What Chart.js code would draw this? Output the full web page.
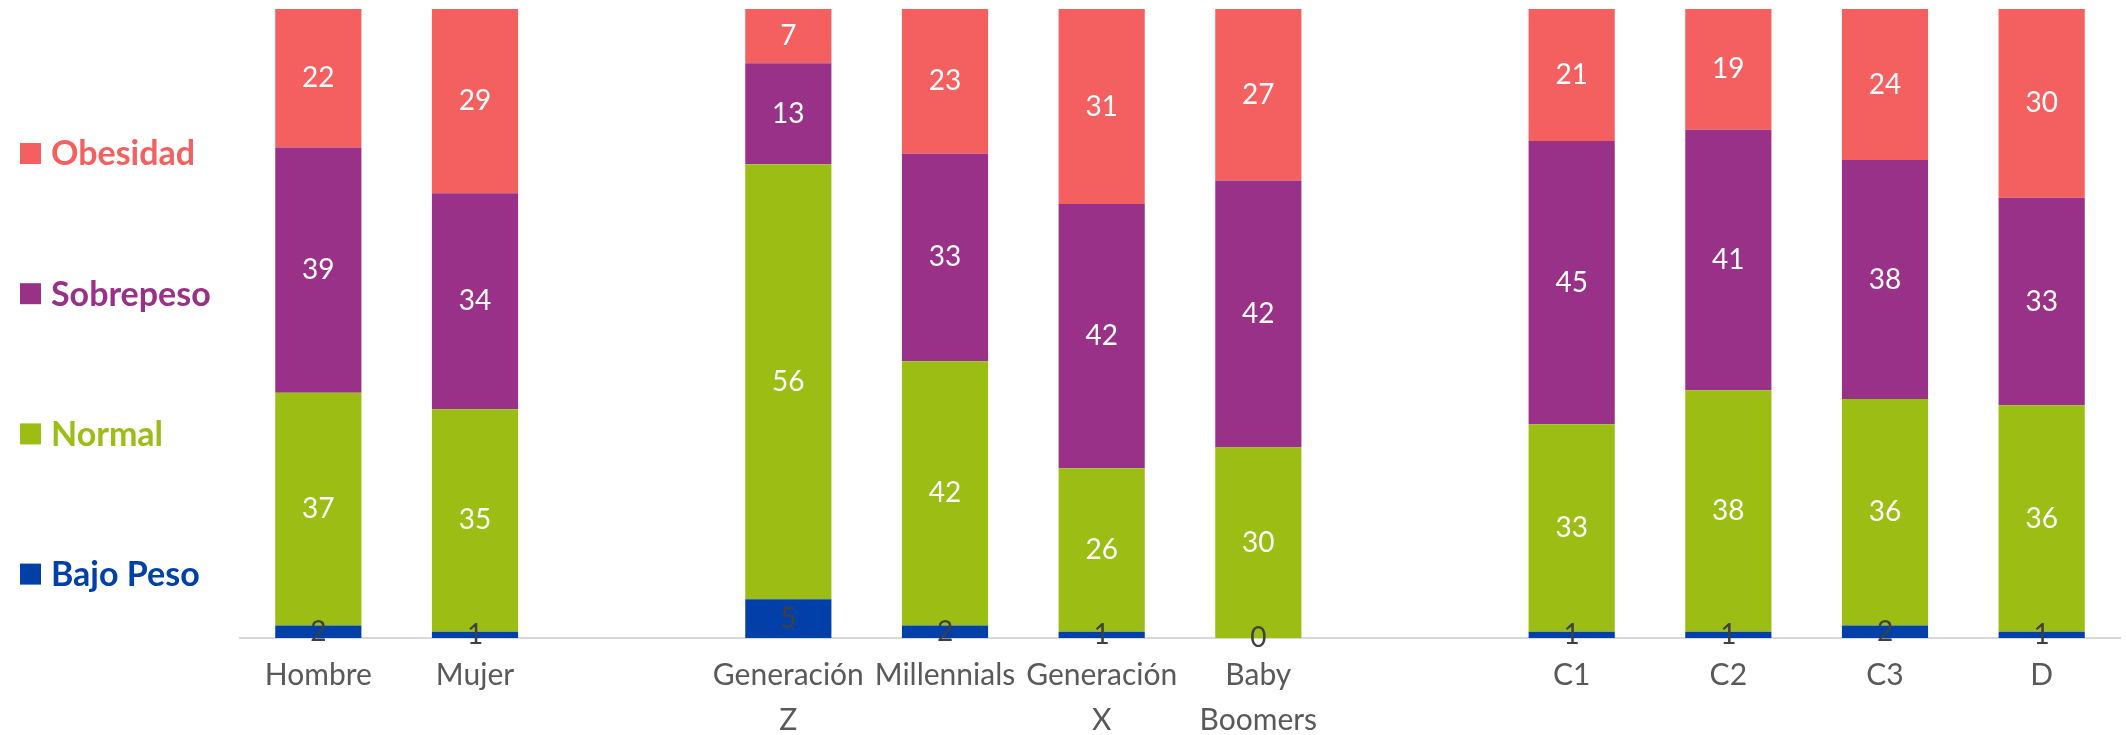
<!DOCTYPE html>
<html>
<head>
<meta charset="utf-8">
<script src="https://cdn.jsdelivr.net/npm/chart.js@4.4.1/dist/chart.umd.min.js"></script>
<style>
  body { margin: 0; background: #fff; }
  canvas { display: block; }
</style>
</head>
<body>
<canvas id="mychart" width="2126" height="735"></canvas>
<script>
// categories (blank slots are the gaps between groups)
var categories = ['Hombre', 'Mujer', '', ['Generación', 'Z'], 'Millennials', ['Generación', 'X'], ['Baby', 'Boomers'], '', 'C1', 'C2', 'C3', 'D']

// raw values shown in the labels
var bajoPeso  = [2, 1, null, 5, 2, 1, 0, null, 1, 1, 2, 1]
var normal    = [37, 35, null, 56, 42, 26, 30, null, 33, 38, 36, 36]
var sobrepeso = [39, 34, null, 13, 33, 42, 42, null, 45, 41, 38, 33]
var obesidad  = [22, 29, null, 7, 23, 31, 27, null, 21, 19, 24, 30]

var seriesNames = ['Bajo Peso', 'Normal', 'Sobrepeso', 'Obesidad']
var seriesColors = ['#0040A8', '#9BBD14', '#993189', '#F4605F']
var labelColors = ['#404040', '#ffffff', '#ffffff', '#ffffff']

var raw = [bajoPeso, normal, sobrepeso, obesidad]

// 100% stacked: turn each column into shares
var totals = categories.map(function(c, i){
    var s = 0
    raw.forEach(function(arr){ if (arr[i] != null) s += arr[i] })
    return s
})
var datasets = raw.map(function(arr, k){
    return {
        label: seriesNames[k],
        data: arr.map(function(v, i){ return v == null ? null : v / totals[i] * 100 }),
        rawValues: arr,
        backgroundColor: seriesColors[k],
        labelColor: labelColors[k],
        borderWidth: 0,
        barPercentage: 0.55,
        categoryPercentage: 1
    }
})

Chart.defaults.font.family = 'Lato'

var valueLabels = {
    id: 'valueLabels',
    afterDatasetsDraw: function(chart){
        var ctx = chart.ctx
        ctx.save()
        ctx.font = '28px Lato'
        ctx.textAlign = 'center'
        ctx.textBaseline = 'middle'
        chart.data.datasets.forEach(function(ds, k){
            var meta = chart.getDatasetMeta(k)
            meta.data.forEach(function(bar, i){
                var v = ds.rawValues[i]
                if (v == null) return
                ctx.fillStyle = ds.labelColor
                ctx.fillText(String(v), bar.x, (bar.y + bar.base) / 2)
            })
        })
        ctx.restore()
    }
}

var sideLegend = {
    id: 'sideLegend',
    afterDraw: function(chart){
        var ctx = chart.ctx
        ctx.save()
        ctx.font = 'bold 34px Lato'
        ctx.textBaseline = 'middle'
        ctx.textAlign = 'left'
        var n = chart.data.datasets.length
        for (var j = 0; j < n; j++){
            var ds = chart.data.datasets[n - 1 - j]
            var cy = 153.5 + j * 140.2
            ctx.fillStyle = ds.backgroundColor
            ctx.fillRect(20, cy - 10.5, 21, 21)
            ctx.fillText(ds.label, 51, cy + 1)
        }
        ctx.restore()
    }
}

var myChart = document.getElementById('mychart').getContext('2d')

var chart = new Chart(myChart, {
    type: 'bar',
    data: {
        labels: categories,
        datasets: datasets
    },
    options: {
        responsive: false,
        animation: false,
        layout: { padding: { left: 240, right: 6, top: 9, bottom: 0 } },
        plugins: {
            legend: { display: false },
            tooltip: { enabled: false }
        },
        scales: {
            x: {
                stacked: true,
                grid: { display: false, drawTicks: false },
                border: { display: true, color: '#D9D9D9', width: 2 },
                ticks: {
                    color: '#595959',
                    font: { size: 30, lineHeight: 1.5 },
                    padding: 15,
                    maxRotation: 0,
                    autoSkip: false
                },
                afterFit: function(scale){ scale.height = 97 }
            },
            y: {
                stacked: true,
                display: false,
                min: 0,
                max: 100
            }
        }
    },
    plugins: [valueLabels, sideLegend]
})
</script>
</body>
</html>
